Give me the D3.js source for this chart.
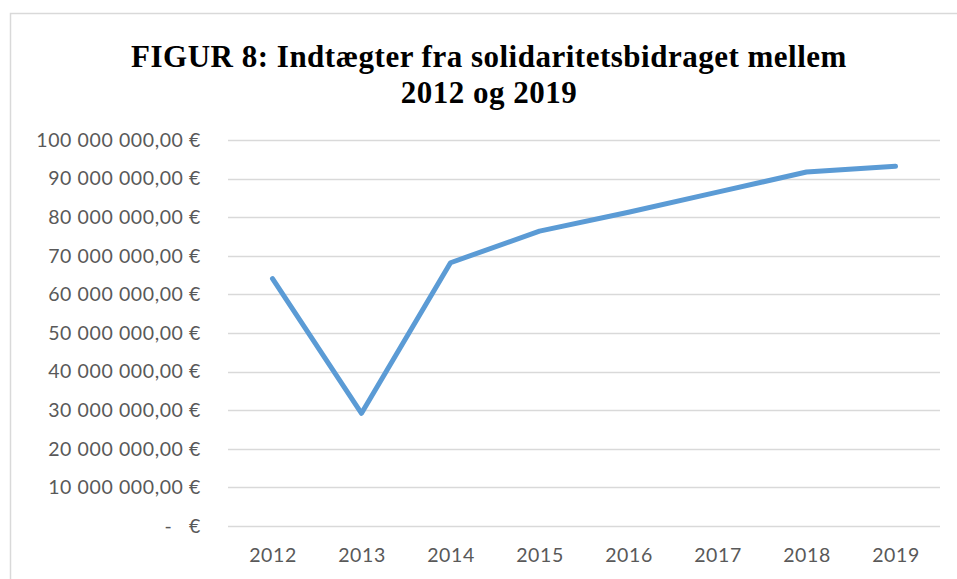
<!DOCTYPE html>
<html>
<head>
<meta charset="utf-8">
<script src="https://cdn.jsdelivr.net/npm/d3@7"></script>
<style>
    body { margin: 0; background: #fff; }
    #chart { width: 957px; height: 579px; }
</style>
</head>
<body>
<div id="chart"></div>
<script>

// years on the x axis
let years = ["2012", "2013", "2014", "2015", "2016", "2017", "2018", "2019"];

// revenue from the solidarity contribution, in euro
let revenue = [64100000, 29200000, 68200000, 76400000, 81300000, 86500000, 91700000, 93200000];

// y ticks
let yTicks = [0, 10000000, 20000000, 30000000, 40000000, 50000000, 60000000, 70000000, 80000000, 90000000, 100000000];

let titleLines = ["FIGUR 8: Indtægter fra solidaritetsbidraget mellem", "2012 og 2019"];


let width = 957, height = 579;
let margin = {top: 140, right: 17, bottom: 53, left: 228};

let svg = d3.select("#chart").append("svg")
    .attr("width", width)
    .attr("height", height);

// outer chart border
svg.append("rect")
    .attr("x", 10.5)
    .attr("y", 13.5)
    .attr("width", 960)
    .attr("height", 600)
    .attr("fill", "#fff")
    .attr("stroke", "#d9d9d9")
    .attr("stroke-width", 1.5);

// title
svg.append("text")
    .attr("text-anchor", "middle")
    .attr("font-family", "'Liberation Serif', 'Times New Roman', serif")
    .attr("font-weight", "bold")
    .attr("font-size", "31px")
    .attr("letter-spacing", "0.5px")
    .attr("fill", "#000")
    .selectAll("tspan")
    .data(titleLines)
    .enter()
    .append("tspan")
    .attr("x", 489)
    .attr("y", (d, i) => 67 + i * 36)
    .text(d => d);

let x = d3.scaleBand()
    .domain(years)
    .range([margin.left, width - margin.right]);

let y = d3.scaleLinear()
    .domain([0, 100000000])
    .range([height - margin.bottom, margin.top]);

// number format like "90 000 000,00 €"
let fmt = d => {
    if (d === 0) return "-   €";
    let s = d3.format(",.2f")(d);
    return s.replace(/,/g, " ").replace(".", ",") + " €";
};

// gridlines
svg.append("g")
    .selectAll("line")
    .data(yTicks)
    .enter()
    .append("line")
    .attr("x1", margin.left)
    .attr("x2", width - margin.right)
    .attr("y1", d => Math.round(y(d)) + 0.5)
    .attr("y2", d => Math.round(y(d)) + 0.5)
    .attr("stroke", "#d9d9d9")
    .attr("stroke-width", 1.3);

// y axis labels
svg.append("g")
    .selectAll("text")
    .data(yTicks)
    .enter()
    .append("text")
    .attr("x", 201)
    .attr("y", d => y(d))
    .attr("dy", "0.35em")
    .attr("text-anchor", "end")
    .attr("font-family", "Lato, 'Open Sans', sans-serif")
    .attr("font-size", "19.5px")
    .attr("letter-spacing", "0.6px")
    .attr("fill", "#595959")
    .style("white-space", "pre")
    .text(d => fmt(d));

// x axis labels
svg.append("g")
    .selectAll("text")
    .data(years)
    .enter()
    .append("text")
    .attr("x", d => x(d) + x.bandwidth() / 2 + 0.5)
    .attr("y", 555)
    .attr("dy", "0.35em")
    .attr("text-anchor", "middle")
    .attr("font-family", "Lato, 'Open Sans', sans-serif")
    .attr("font-size", "19.5px")
    .attr("letter-spacing", "0.6px")
    .attr("fill", "#595959")
    .text(d => d);

// the line
let line = d3.line()
    .x((d, i) => x(years[i]) + x.bandwidth() / 2)
    .y(d => y(d));

svg.append("path")
    .datum(revenue)
    .attr("d", line)
    .attr("fill", "none")
    .attr("stroke", "#5b9bd5")
    .attr("stroke-width", 5)
    .attr("stroke-linecap", "round")
    .attr("stroke-linejoin", "round");

</script>
</body>
</html>
